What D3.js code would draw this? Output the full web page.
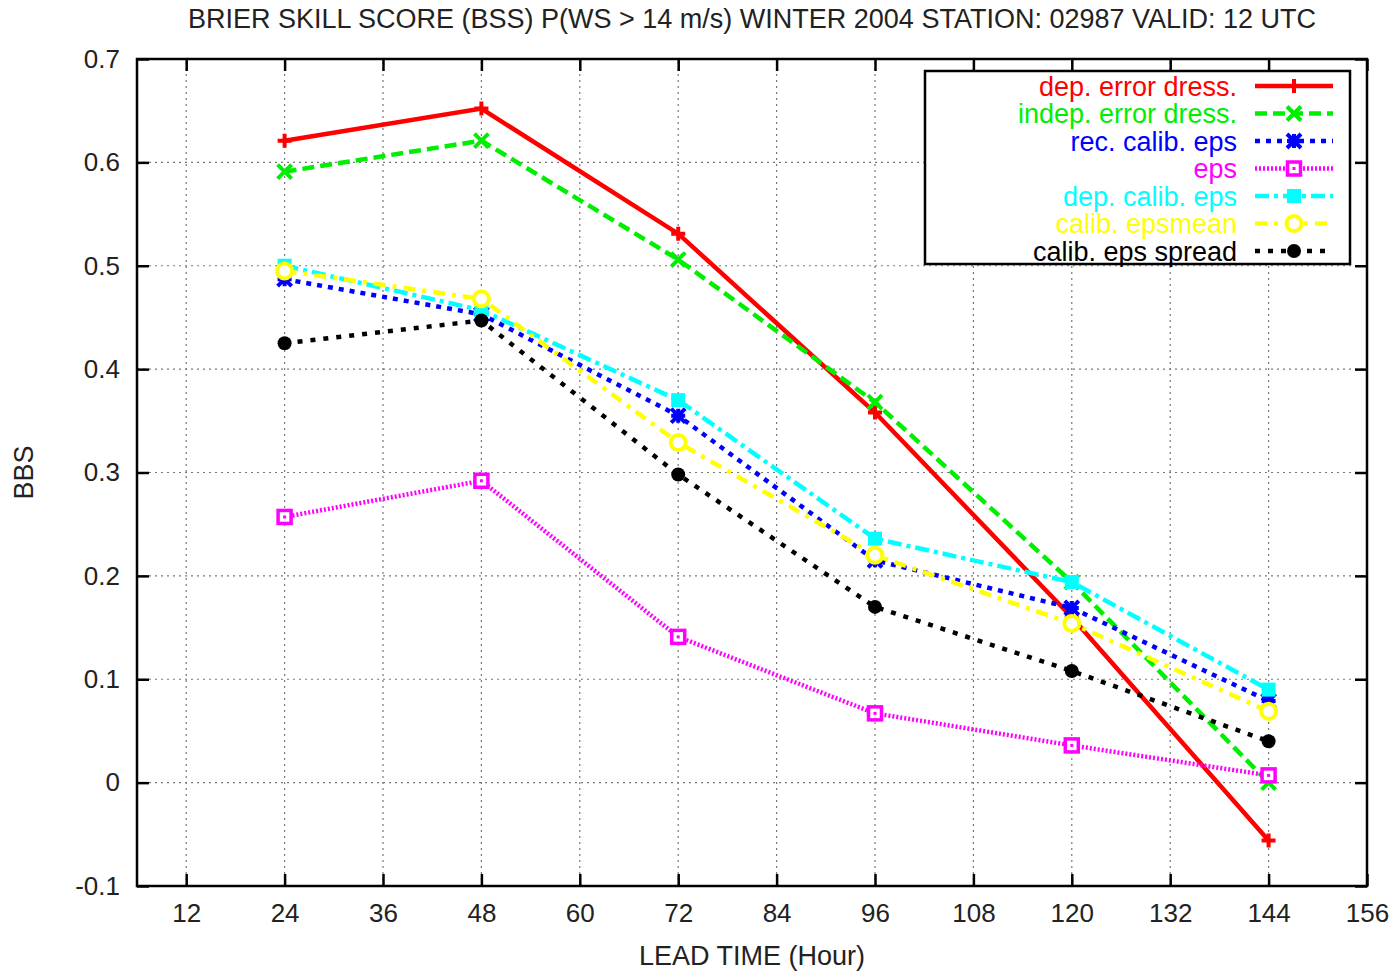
<!DOCTYPE html>
<html>
<head>
<meta charset="utf-8">
<script src="https://cdn.jsdelivr.net/npm/d3@7"></script>
<style>
  body { margin: 0; background: #fff; }
  text { font-family: "Liberation Sans", Arial, sans-serif; }
</style>
</head>
<body>
<div id="chart"></div>
<script>
// lead times (hours)
var leadTimes = [24, 48, 72, 96, 120, 144];
var xTicks = [12, 24, 36, 48, 60, 72, 84, 96, 108, 120, 132, 144, 156];
var yTicks = [-0.1, 0, 0.1, 0.2, 0.3, 0.4, 0.5, 0.6, 0.7];

// BSS per series
var depErrorDress   = [0.621, 0.652, 0.531, 0.358, 0.160, -0.056];
var indepErrorDress = [0.591, 0.621, 0.506, 0.368, 0.194, 0.000];
var recCalibEps     = [0.487, 0.453, 0.355, 0.215, 0.169, 0.079];
var eps             = [0.257, 0.292, 0.141, 0.067, 0.036, 0.007];
var depCalibEps     = [0.500, 0.457, 0.370, 0.236, 0.194, 0.090];
var calibEpsmean    = [0.495, 0.468, 0.329, 0.220, 0.154, 0.069];
var calibEpsSpread  = [0.425, 0.447, 0.298, 0.170, 0.108, 0.040];

var seriesNames = ["dep. error dress.", "indep. error dress.", "rec. calib. eps", "eps",
                   "dep. calib. eps", "calib. epsmean", "calib. eps spread"];
var seriesValues = [depErrorDress, indepErrorDress, recCalibEps, eps,
                    depCalibEps, calibEpsmean, calibEpsSpread];

// styles for each series (colour, dash, marker)
var styles = [
    {color: "#ff0000", dash: null,    marker: "plus"},
    {color: "#00ee00", dash: "12,6",  marker: "cross"},
    {color: "#0000ff", dash: "5,6",   marker: "star"},
    {color: "#ff00ff", dash: "2,2",   marker: "boxdot"},
    {color: "#00ffff", dash: "14,5,4,5", marker: "box"},
    {color: "#ffff00", dash: "12,7,4,7", marker: "circle"},
    {color: "#000000", dash: "5,8",   marker: "dot"}
];

var width = 1397, height = 971;
var margin = {left: 137, right: 30, top: 59, bottom: 85};
var fontTick = "26px", fontLabel = "27px";

var svg = d3.select("#chart").append("svg")
    .attr("width", width)
    .attr("height", height);

var x = d3.scaleLinear().domain([6, 156]).range([margin.left, width - margin.right]);
var y = d3.scaleLinear().domain([-0.1, 0.7]).range([height - margin.bottom, margin.top]);

var x0 = x.range()[0], x1 = x.range()[1], y0 = y.range()[0], y1 = y.range()[1];

// grid
var grid = svg.append("g").attr("class", "grid");
grid.selectAll("line.gx")
    .data(xTicks.filter(function(d) { return d < 156; }))
    .enter().append("line")
    .attr("x1", function(d) { return x(d); })
    .attr("x2", function(d) { return x(d); })
    .attr("y1", y0).attr("y2", y1)
    .attr("stroke", "#777").attr("stroke-width", 1.2)
    .attr("stroke-dasharray", "2,4");
grid.selectAll("line.gy")
    .data(yTicks.filter(function(d) { return d > -0.1 && d < 0.7; }))
    .enter().append("line")
    .attr("y1", function(d) { return y(d); })
    .attr("y2", function(d) { return y(d); })
    .attr("x1", x0).attr("x2", x1)
    .attr("stroke", "#777").attr("stroke-width", 1.2)
    .attr("stroke-dasharray", "2,4");

// axes, ticks inward on all four sides
var tickLen = 12;
svg.append("g")
    .attr("transform", "translate(0," + y0 + ")")
    .call(d3.axisBottom(x).tickValues(xTicks).tickSizeInner(-tickLen).tickSizeOuter(0).tickPadding(18))
    .call(function(g) { g.select(".domain").remove(); });
svg.append("g")
    .attr("transform", "translate(0," + y1 + ")")
    .call(d3.axisTop(x).tickValues(xTicks).tickSizeInner(-tickLen).tickSizeOuter(0).tickFormat(""))
    .call(function(g) { g.select(".domain").remove(); });
svg.append("g")
    .attr("transform", "translate(" + x0 + ",0)")
    .call(d3.axisLeft(y).tickValues(yTicks).tickSizeInner(-tickLen).tickSizeOuter(0).tickPadding(17)
        .tickFormat(function(d) { return String(Math.round(d * 10) / 10); }))
    .call(function(g) { g.select(".domain").remove(); });
svg.append("g")
    .attr("transform", "translate(" + x1 + ",0)")
    .call(d3.axisRight(y).tickValues(yTicks).tickSizeInner(-tickLen).tickSizeOuter(0).tickFormat(""))
    .call(function(g) { g.select(".domain").remove(); });

svg.selectAll(".tick line").attr("stroke", "#000").attr("stroke-width", 2.5);
svg.selectAll(".tick text")
    .attr("fill", "#222")
    .style("font-size", fontTick)
    .style("font-family", "'Liberation Sans', Arial, sans-serif");

svg.append("rect")
    .attr("x", x0).attr("y", y1)
    .attr("width", x1 - x0).attr("height", y0 - y1)
    .attr("fill", "none").attr("stroke", "#000").attr("stroke-width", 2.5);

// markers
function drawMarker(g, type, color, cx, cy) {
    var s = 7;
    if (type === "plus") {
        g.append("path")
            .attr("d", "M" + (cx - s) + "," + cy + "H" + (cx + s) + "M" + cx + "," + (cy - s) + "V" + (cy + s))
            .attr("stroke", color).attr("stroke-width", 4).attr("fill", "none");
    } else if (type === "cross") {
        g.append("path")
            .attr("d", "M" + (cx - s) + "," + (cy - s) + "L" + (cx + s) + "," + (cy + s) +
                       "M" + (cx - s) + "," + (cy + s) + "L" + (cx + s) + "," + (cy - s))
            .attr("stroke", color).attr("stroke-width", 4).attr("fill", "none");
    } else if (type === "star") {
        g.append("path")
            .attr("d", "M" + (cx - s) + "," + (cy - s) + "L" + (cx + s) + "," + (cy + s) +
                       "M" + (cx - s) + "," + (cy + s) + "L" + (cx + s) + "," + (cy - s) +
                       "M" + (cx - s) + "," + cy + "H" + (cx + s) + "M" + cx + "," + (cy - s) + "V" + (cy + s))
            .attr("stroke", color).attr("stroke-width", 4).attr("fill", "none");
        g.append("rect").attr("x", cx - 4.5).attr("y", cy - 4.5).attr("width", 9).attr("height", 9).attr("fill", color);
    } else if (type === "boxdot") {
        g.append("rect").attr("x", cx - 6.5).attr("y", cy - 6.5).attr("width", 13).attr("height", 13)
            .attr("fill", "#fff").attr("stroke", color).attr("stroke-width", 3.5);
        g.append("rect").attr("x", cx - 1.5).attr("y", cy - 1.5).attr("width", 3).attr("height", 3).attr("fill", color);
    } else if (type === "box") {
        g.append("rect").attr("x", cx - 7).attr("y", cy - 7).attr("width", 14).attr("height", 14).attr("fill", color);
    } else if (type === "circle") {
        g.append("circle").attr("cx", cx).attr("cy", cy).attr("r", 7.5)
            .attr("fill", "#fff").attr("stroke", color).attr("stroke-width", 4);
    } else if (type === "dot") {
        g.append("circle").attr("cx", cx).attr("cy", cy).attr("r", 7).attr("fill", color);
    }
}

var line = d3.line()
    .x(function(d) { return x(d[0]); })
    .y(function(d) { return y(d[1]); });

var plot = svg.append("g").attr("class", "series");
seriesValues.forEach(function(vals, i) {
    var st = styles[i];
    var pts = leadTimes.map(function(t, j) { return [t, vals[j]]; });
    var g = plot.append("g");
    g.append("path")
        .datum(pts)
        .attr("d", line)
        .attr("fill", "none")
        .attr("stroke", st.color)
        .attr("stroke-width", 4.5)
        .attr("stroke-dasharray", st.dash);
    pts.forEach(function(p) { drawMarker(g, st.marker, st.color, x(p[0]), y(p[1])); });
});

// legend
var lg = svg.append("g");
lg.append("rect")
    .attr("x", 925).attr("y", 71).attr("width", 425).attr("height", 193)
    .attr("fill", "#fff").attr("stroke", "#000").attr("stroke-width", 2.5);
seriesNames.forEach(function(name, i) {
    var st = styles[i];
    var ly = 86 + i * 27.5;
    lg.append("text")
        .attr("x", 1237).attr("y", ly)
        .attr("dy", "0.36em")
        .attr("text-anchor", "end")
        .attr("fill", st.color)
        .style("font-size", fontLabel)
        .text(name);
    lg.append("line")
        .attr("x1", 1255).attr("x2", 1333)
        .attr("y1", ly).attr("y2", ly)
        .attr("stroke", st.color).attr("stroke-width", 4.5)
        .attr("stroke-dasharray", st.dash);
    drawMarker(lg, st.marker, st.color, 1294, ly);
});

// titles
svg.append("text")
    .attr("x", (x0 + x1) / 2).attr("y", 28)
    .attr("text-anchor", "middle")
    .attr("fill", "#222")
    .style("font-size", fontLabel)
    .text("BRIER SKILL SCORE (BSS) P(WS > 14 m/s) WINTER 2004 STATION: 02987 VALID: 12 UTC");

svg.append("text")
    .attr("x", (x0 + x1) / 2).attr("y", 965)
    .attr("text-anchor", "middle")
    .attr("fill", "#222")
    .style("font-size", fontLabel)
    .text("LEAD TIME (Hour)");

svg.append("text")
    .attr("transform", "translate(33," + ((y0 + y1) / 2) + ") rotate(-90)")
    .attr("text-anchor", "middle")
    .attr("fill", "#222")
    .style("font-size", fontLabel)
    .text("BBS");
</script>
</body>
</html>
